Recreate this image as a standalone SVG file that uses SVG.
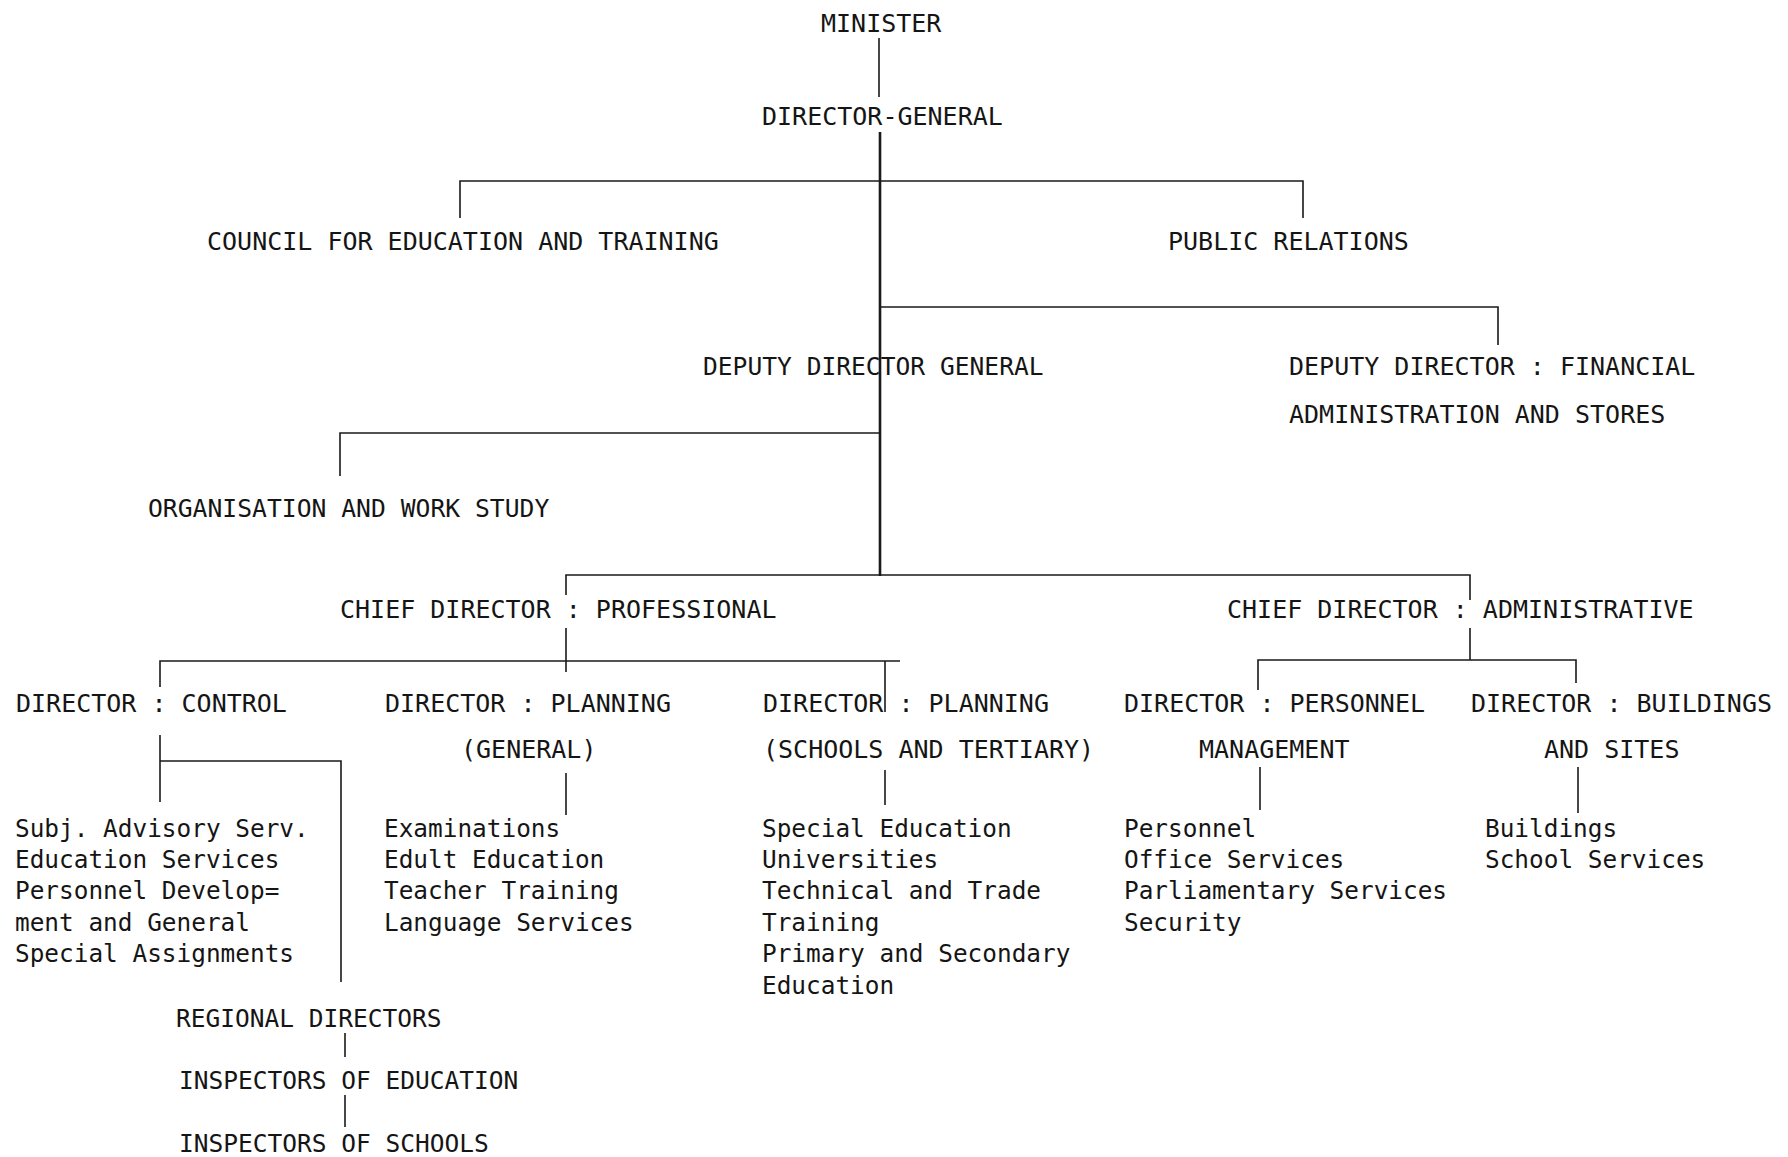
<svg xmlns="http://www.w3.org/2000/svg" width="1788" height="1157" viewBox="0 0 1788 1157">
<style>
  text { font-family: "DejaVu Sans Mono", "Liberation Mono", monospace; font-size: 25px; fill: #151515; }
  .s { font-size: 24.5px; }
  .l { font-size: 24.4px; }
  .c { stroke: #1a1a1a; stroke-width: 1.6; fill: none; }
  .m { stroke-width: 2.6; }
</style>
<rect width="1788" height="1157" fill="#ffffff"/>

<g id="connectors">
  <path class="c" d="M879,38 V97"/>
  <path class="c m" d="M880,132 V576"/>
  <path class="c" d="M460,218 V181 H1303 V218"/>
  <path class="c" d="M880,307 H1498 V345"/>
  <path class="c" d="M880,433 H340 V476"/>
  <path class="c" d="M566,595 V575 H1470 V600"/>
  <path class="c" d="M566,628 V672"/>
  <path class="c" d="M1470,628 V660"/>
  <path class="c" d="M160,687 V661 H900"/>
  <path class="c" d="M885,661 V712"/>
  <path class="c" d="M1258,690 V660 H1576 V683"/>
  <path class="c" d="M160,735 V802"/>
  <path class="c" d="M160,761 H341 V982"/>
  <path class="c" d="M345,1033 V1057"/>
  <path class="c" d="M345,1095 V1127"/>
  <path class="c" d="M566,773 V815"/>
  <path class="c" d="M885,770 V805"/>
  <path class="c" d="M1260,767 V810"/>
  <path class="c" d="M1578,767 V813"/>
</g>

<g id="minister"><text x="821" y="32">MINISTER</text></g>
<g id="director-general"><text x="762" y="125">DIRECTOR-GENERAL</text></g>
<g id="council"><text x="207" y="250">COUNCIL FOR EDUCATION AND TRAINING</text></g>
<g id="public-relations"><text x="1168" y="250">PUBLIC RELATIONS</text></g>
<g id="deputy-director-general"><text x="703" y="375" style="font-size:24.6px">DEPUTY DIRECTOR GENERAL</text></g>
<g id="deputy-director-financial">
  <text x="1289" y="375">DEPUTY DIRECTOR : FINANCIAL</text>
  <text x="1289" y="423">ADMINISTRATION AND STORES</text>
</g>
<g id="organisation"><text x="148" y="517" style="font-size:24.7px">ORGANISATION AND WORK STUDY</text></g>
<g id="chief-professional"><text x="340" y="618">CHIEF DIRECTOR : PROFESSIONAL</text></g>
<g id="chief-administrative"><text x="1227" y="618">CHIEF DIRECTOR : ADMINISTRATIVE</text></g>

<g id="director-control">
  <text x="16" y="712">DIRECTOR : CONTROL</text>
</g>
<g id="control-list">
  <text class="l" x="15" y="837">Subj. Advisory Serv.</text>
  <text class="l" x="15" y="868">Education Services</text>
  <text class="l" x="15" y="899">Personnel Develop=</text>
  <text class="l" x="15" y="931">ment and General</text>
  <text class="l" x="15" y="962">Special Assignments</text>
</g>
<g id="director-planning-general">
  <text x="385" y="712">DIRECTOR : PLANNING</text>
  <text x="461" y="758">(GENERAL)</text>
</g>
<g id="planning-general-list">
  <text class="l" x="384" y="837">Examinations</text>
  <text class="l" x="384" y="868">Edult Education</text>
  <text class="l" x="384" y="899">Teacher Training</text>
  <text class="l" x="384" y="931">Language Services</text>
</g>
<g id="director-planning-schools">
  <text x="763" y="712">DIRECTOR : PLANNING</text>
  <text x="763" y="758">(SCHOOLS AND TERTIARY)</text>
</g>
<g id="planning-schools-list">
  <text class="l" x="762" y="837">Special Education</text>
  <text class="l" x="762" y="868">Universities</text>
  <text class="l" x="762" y="899">Technical and Trade</text>
  <text class="l" x="762" y="931">Training</text>
  <text class="l" x="762" y="962">Primary and Secondary</text>
  <text class="l" x="762" y="994">Education</text>
</g>
<g id="director-personnel">
  <text x="1124" y="712">DIRECTOR : PERSONNEL</text>
  <text x="1199" y="758">MANAGEMENT</text>
</g>
<g id="personnel-list">
  <text class="l" x="1124" y="837">Personnel</text>
  <text class="l" x="1124" y="868">Office Services</text>
  <text class="l" x="1124" y="899">Parliamentary Services</text>
  <text class="l" x="1124" y="931">Security</text>
</g>
<g id="director-buildings">
  <text x="1471" y="712">DIRECTOR : BUILDINGS</text>
  <text x="1544" y="758">AND SITES</text>
</g>
<g id="buildings-list">
  <text class="l" x="1485" y="837">Buildings</text>
  <text class="l" x="1485" y="868">School Services</text>
</g>
<g id="regional-directors"><text class="s" x="176" y="1027">REGIONAL DIRECTORS</text></g>
<g id="inspectors-education"><text class="s" x="179" y="1089">INSPECTORS OF EDUCATION</text></g>
<g id="inspectors-schools"><text class="s" x="179" y="1152">INSPECTORS OF SCHOOLS</text></g>
</svg>
